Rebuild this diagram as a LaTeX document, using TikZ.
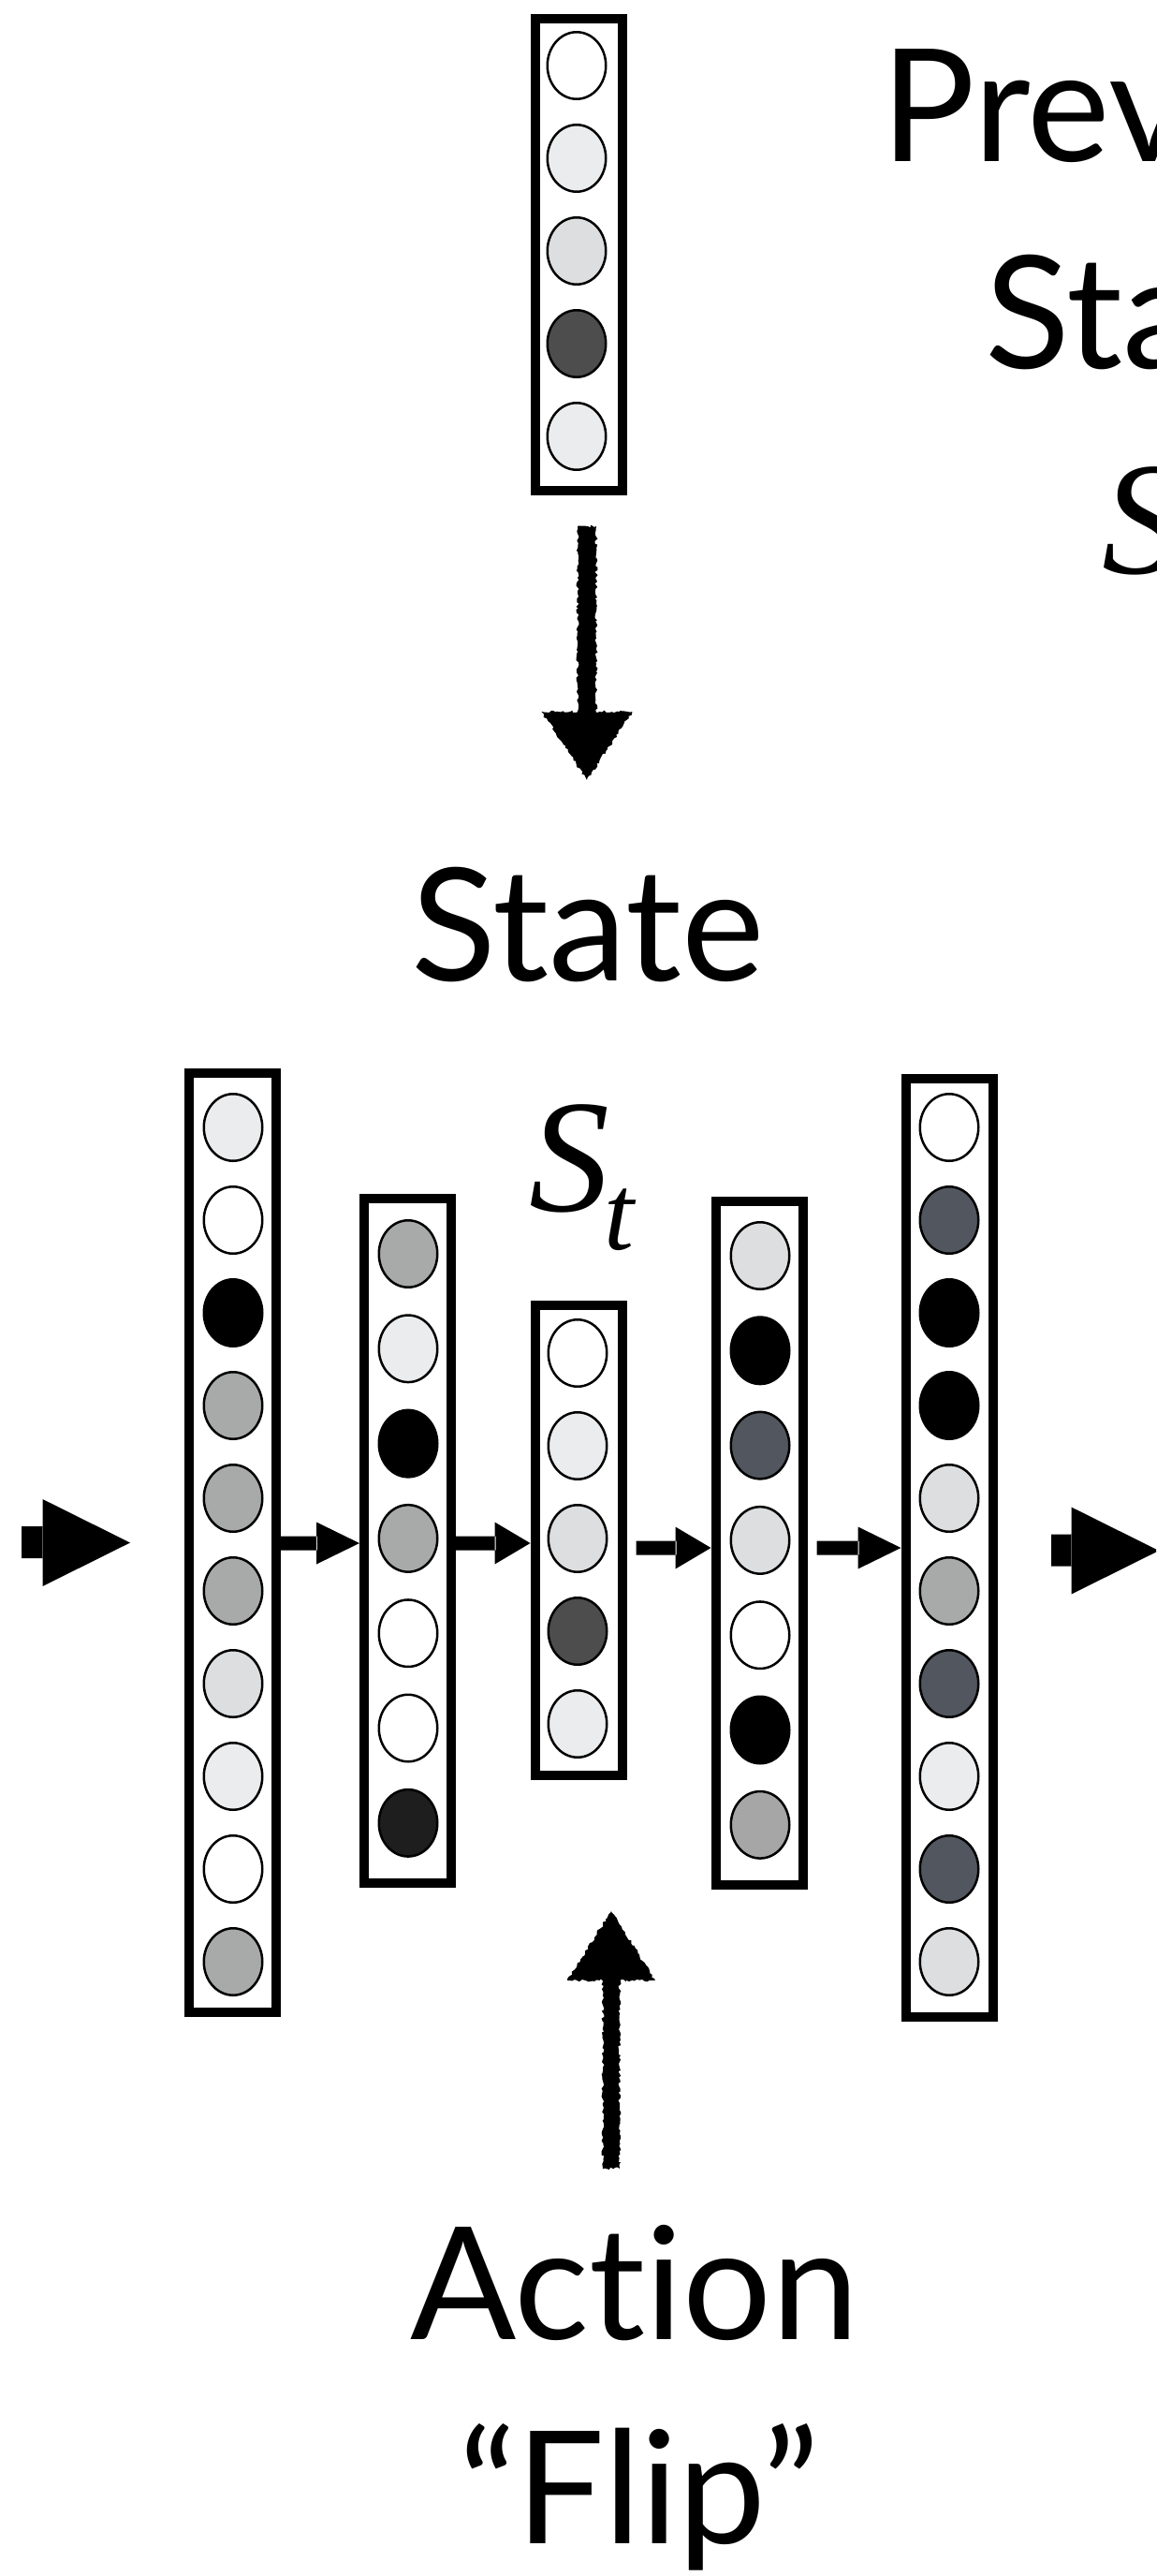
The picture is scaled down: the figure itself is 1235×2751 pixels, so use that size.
\documentclass[tikz,border=0pt]{standalone}
\usepackage{fontspec}
\setmainfont{Lato}[Ligatures={NoCommon}]
\newfontfamily\tmsfont{Liberation Serif}
\usetikzlibrary{calc,shapes.geometric,decorations.pathmorphing}
\definecolor{cW}{HTML}{FFFFFF}
\definecolor{cL}{HTML}{EBECED}
\definecolor{cM}{HTML}{DDDEDF}
\definecolor{cG}{HTML}{A7AAA9}
\definecolor{cH}{HTML}{A6A6A6}
\definecolor{cS}{HTML}{52565E}
\definecolor{cD}{HTML}{4D4D4D}
\definecolor{cV}{HTML}{1E1E1E}
\definecolor{cK}{HTML}{000000}
\newcommand{\lblfont}{\fontsize{167.5pt}{220pt}\selectfont}
\newcommand{\symS}[1]{{\tmsfont\itshape\fontsize{172pt}{200pt}\selectfont S}\kern-6pt\raisebox{-41pt}{\tmsfont\itshape\fontsize{115pt}{130pt}\selectfont #1}}
\pgfmathsetseed{7}
\begin{document}
\begin{tikzpicture}[x=1pt,y=-1pt,
  layerbox/.style={draw=black, line width=10pt, fill=white, rectangle, inner sep=0pt, minimum width=93pt},
  unit/.style={draw=black, line width=2.5pt, ellipse, inner sep=0pt, minimum width=62.5pt, minimum height=71.5pt},
  txt/.style={inner sep=0pt, font=\lblfont},
  harrow/.style={to path={let \p1=(\tikztostart), \p2=(\tikztotarget) in
      (\x1,\y1+7.5pt) rectangle (\x2-#1pt+1pt,\y1-7.5pt)
      (\x2-#1pt,\y2+22.5pt) -- (\x2,\y2) -- (\x2-#1pt,\y2-22.5pt) -- cycle}},
  bigarrow/.style={to path={let \p1=(\tikztostart), \p2=(\tikztotarget) in
      (\x1,\y1+17pt) rectangle (\x2-93pt,\y1-17pt)
      (\x2-93.5pt,\y2+46.5pt) -- (\x2,\y2) -- (\x2-93.5pt,\y2-46.5pt) -- cycle}},
  rough/.style={decorate, decoration={random steps, segment length=2.5pt, amplitude=1.5pt}},
  downarrow/.style={to path={let \p1=(\tikztostart), \p2=(\tikztotarget) in
      (\x1-10pt,\y1) rectangle (\x1+10pt,\y2+71pt)
      (\x2-48.5pt,\y2+73pt) -- (\x2,\y2) -- (\x2+48.5pt,\y2+73pt) -- cycle}},
  uparrow/.style={to path={let \p1=(\tikztostart), \p2=(\tikztotarget) in
      (\x1-9pt,\y1) rectangle (\x1+9pt,\y2-72pt)
      (\x2-47pt,\y2-74pt) -- (\x2,\y2) -- (\x2+47pt,\y2-74pt) -- cycle}}
]
\useasboundingbox (0,0) rectangle (1235,2751);
\clip (0,0) rectangle (1235,2751);

% layer boxes
\node[layerbox, minimum height=504pt]  (boxT) at (618,272) {};
\node[layerbox, minimum height=1003pt] (box1) at (248.5,1647.5) {};
\node[layerbox, minimum height=731pt]  (box2) at (435.5,1645.5) {};
\node[layerbox, minimum height=502pt]  (box3) at (618,1645) {};
\node[layerbox, minimum height=730pt]  (box4) at (811,1648) {};
\node[layerbox, minimum height=1002pt] (box5) at (1014,1653) {};

% units
\foreach \c [count=\i] in {cW,cL,cM,cD,cL}
  \node[unit, fill=\c] (uT-\i) at (616,{70+99*(\i-1)}) {};
\foreach \c [count=\i] in {cL,cW,cK,cG,cG,cG,cM,cL,cW,cG}
  \node[unit, fill=\c] (u1-\i) at (249,{1204+99*(\i-1)}) {};
\foreach \c [count=\i] in {cG,cL,cK,cG,cW,cW,cV}
  \node[unit, fill=\c] (u2-\i) at (436,{1339+101.3*(\i-1)}) {};
\foreach \c [count=\i] in {cW,cL,cM,cD,cL}
  \node[unit, fill=\c] (u3-\i) at (617,{1445+99*(\i-1)}) {};
\foreach \c [count=\i] in {cM,cK,cS,cM,cW,cK,cH}
  \node[unit, fill=\c] (u4-\i) at (812,{1341+101.3*(\i-1)}) {};
\foreach \c [count=\i] in {cW,cS,cK,cK,cM,cG,cS,cL,cS,cM}
  \node[unit, fill=\c] (u5-\i) at (1014,{1204+99*(\i-1)}) {};

% arrows between layers
\coordinate (ra) at (0,1648);
\coordinate (rb) at (0,1653);
\fill (box1.east |- ra) to[harrow=46] (box2.west |- ra);
\fill (box2.east |- ra) to[harrow=38] (box3.west |- ra);
\fill ([xshift=10pt]box3.east |- rb) to[harrow=38] (box4.west |- rb);
\fill ([xshift=10pt]box4.east |- rb) to[harrow=46] (box5.west |- rb);

% input / output arrows
\coordinate (inS) at (23,1647);
\coordinate (inE) at (139,1647.5);
\coordinate (outS) at (1123,1655.5);
\coordinate (outE) at (1238,1656);
\fill (inS) to[bigarrow] (inE);
\fill (outS) to[bigarrow] (outE);

% labels
\node[txt, anchor=base] (state) at (628,1047) {State};
\node[txt, anchor=base west] (st) at (565,1293) {\symS{t}};
\node[txt, anchor=base] (act) at (678,2498) {Action};
\node[txt, anchor=base] (flip) at (683,2716) {“Flip”};
\node[txt, anchor=base west] (prev1) at (941,172) {Previous};
\node[txt, anchor=base west] (prev2) at (1052,393) {State};
\node[txt, anchor=base west] (prev3) at (1177,612) {\symS{t−1}};

% sketched arrows
\coordinate (dS) at (627,562);
\coordinate (dE) at (627,833);
\fill[rough] (dS) to[downarrow] (dE);
\coordinate (uS) at (653,2316);
\coordinate (uE) at (653,2041);
\fill[rough] (uS) to[uparrow] (uE);
\end{tikzpicture}
\end{document}
